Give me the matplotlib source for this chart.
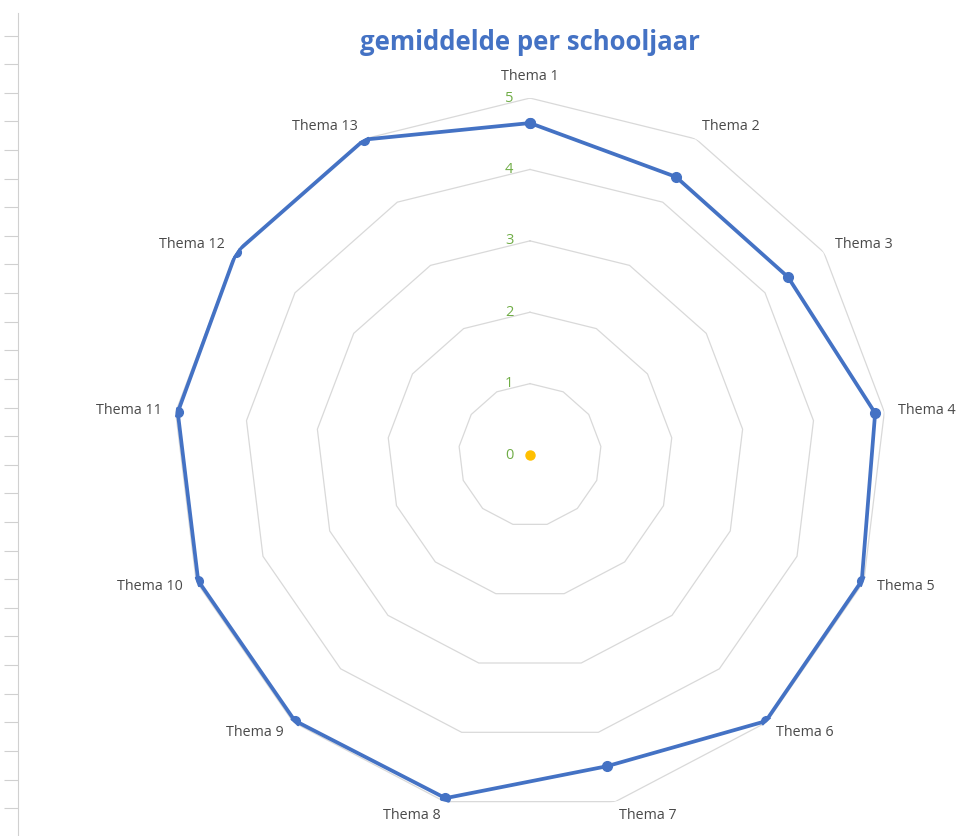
import matplotlib.pyplot as plt
import numpy as np

plt.rcParams['font.family'] = ['Open Sans', 'DejaVu Sans']

# data
categories = [f"Thema {i}" for i in range(1, 14)]
values = [4.65, 4.40, 4.39, 4.87, 4.97, 4.98, 4.49, 4.95, 4.97, 4.97, 4.97, 5.0, 4.99]
zero_series = [0]
levels = [1, 2, 3, 4, 5]
level_labels = ["0", "1", "2", "3", "4", "5"]

blue = "#4472c4"
grid_col = "#d9d9d9"
green = "#70ad47"
text_col = "#4a4a4a"

fig = plt.figure(figsize=(9.6, 8.36), dpi=100)

# spreadsheet row marks on the left edge
side = fig.add_axes([0.0, 0.0, 0.019, 0.985])
for s in ["top", "bottom", "left"]:
    side.spines[s].set_visible(False)
side.spines["right"].set_color("#d0d0d0")
side.set_xticks([])
side.set_ylim(0, 823)
side.yaxis.tick_right()
side.set_yticks(np.arange(823 - 23, 0, -28.6))
side.tick_params(axis="y", direction="in", length=10, color="#d0d0d0", labelright=False)

ax = fig.add_axes([0.1802, 0.0287, 0.74375, 0.854], projection="polar")
ax.set_theta_zero_location("N")
ax.set_theta_direction(-1)
ax.set_ylim(0, 5)
ax.grid(False)
ax.spines["polar"].set_visible(False)
ax.set_xticks([])
ax.set_yticks([])

n = len(categories)
angles = np.linspace(0, 2 * np.pi, n, endpoint=False)
closed = np.append(angles, angles[0])

for lv in levels:
    ax.plot(closed, [lv] * (n + 1), color=grid_col, lw=0.9, zorder=1)

vals = np.append(values, values[0])
ax.plot(closed, vals, color=blue, lw=2.7, marker="o", ms=7, zorder=3)
ax.plot([0] * len(zero_series), zero_series, ls="none", marker="o", ms=6.5,
        color="#ffc000", zorder=4)

# radial labels left of the first spoke
for i, lab in enumerate(level_labels):
    ax.annotate(lab, xy=(0, i), xytext=(-15, 0), textcoords="offset points",
                ha="center", va="center", color=green, fontsize=10.5)

# category labels
for ang, cat in zip(angles, categories):
    sx, cy = np.sin(ang), np.cos(ang)
    d = 10
    if sx > 0.1:
        ha = "left"
    elif sx < -0.1:
        ha = "right"
    else:
        ha = "center"
    va = "bottom" if cy > 0.95 else "center"
    ax.annotate(cat, xy=(ang, 5), xytext=(sx * d, cy * d), textcoords="offset points",
                ha=ha, va=va, color=text_col, fontsize=10.3)

fig.text(0.5525, 0.949, "gemiddelde per schooljaar", ha="center", va="center",
         color=blue, fontsize=18.5, fontweight="bold")

fig.savefig("out.png", dpi=100, facecolor="white")
